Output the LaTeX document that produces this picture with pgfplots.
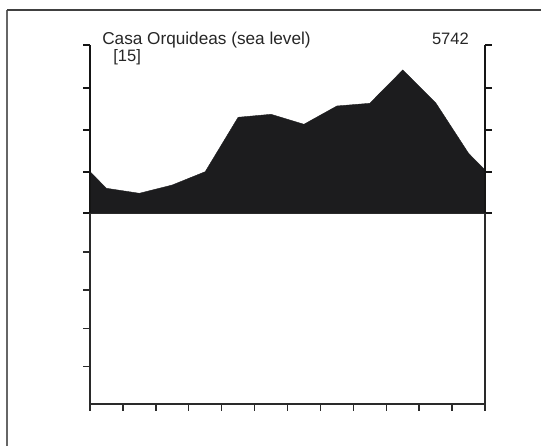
\documentclass[border=0pt]{standalone}
\usepackage{pgfplots}
\pgfplotsset{compat=1.18}
\usepackage{fontspec}
\setmainfont{Liberation Sans}
\definecolor{fillc}{HTML}{1C1C1E}
\definecolor{upc}{HTML}{151515}
\definecolor{lowc}{HTML}{2A2A2A}
\begin{document}
\begin{tikzpicture}
\useasboundingbox (0,0) rectangle (405.75pt,334.5pt);
\draw[black!60, line width=1.3pt] (5.25pt,0pt) -- (5.25pt,327pt);
\draw[black!75, line width=1.3pt] (5.25pt,327pt) -- (405.75pt,327pt);
\begin{axis}[at={(67.5pt,31.5pt)}, anchor=south west, scale only axis,
  width=296.25pt, height=269.25pt, xmin=0, xmax=12, ymin=-190.5, ymax=168.5,
  axis lines=none, clip=false]
\addplot[fill=fillc, draw=fillc, line width=0.3pt] coordinates {
 (0,0) (0,41.8) (0.5,25.2) (1.5,20.2) (2.5,28.5) (3.5,41.8) (4.5,96.2)
 (5.5,99.2) (6.5,89.2) (7.5,107.5) (8.5,110.2) (9.5,143.5) (10.5,110.8)
 (11.5,60.2) (12,43.5) (12,0)} -- cycle;
% upper axis parts
\draw[upc, line width=1.5pt] (axis cs:0,0) -- (axis cs:0,168.5);
\draw[upc, line width=1.5pt] (axis cs:12,0) -- (axis cs:12,168.5);
\pgfplotsinvokeforeach{0,41.8,83.5,125.8,168.5}{
  \draw[upc, line width=1.5pt] (axis cs:0,#1) -- ++(-5.5pt,0pt);
  \draw[upc, line width=1.5pt] (axis cs:12,#1) -- ++(5.5pt,0pt);
}
% lower axis parts
\draw[lowc, line width=1.1pt] (axis cs:0,0) -- (axis cs:0,-190.5) -- (axis cs:12,-190.5) -- (axis cs:12,0);
\draw[lowc, line width=1.1pt] (axis cs:0,0) -- (axis cs:12,0);
\pgfplotsinvokeforeach{-38.3,-76.6,-114.9,-153.2}{
  \draw[lowc, line width=1.1pt] (axis cs:0,#1) -- ++(-5.5pt,0pt);
}
\pgfplotsinvokeforeach{0,...,12}{
  \draw[lowc, line width=1.1pt] (axis cs:#1,-190.5) -- ++(0pt,-5.25pt);
}
\end{axis}
\node[anchor=base west, inner sep=0pt, font=\fontsize{12.9pt}{14pt}\selectfont, text=black!85] at (76.5pt,300.75pt) {Casa Orquideas (sea level)};
\node[anchor=base west, inner sep=0pt, font=\fontsize{12.4pt}{14pt}\selectfont, text=black!85] at (84.75pt,288.2pt) {[15]};
\node[anchor=base west, inner sep=0pt, font=\fontsize{12.4pt}{14pt}\selectfont, text=black!85] at (323.8pt,300.75pt) {5742};
\end{tikzpicture}
\end{document}
